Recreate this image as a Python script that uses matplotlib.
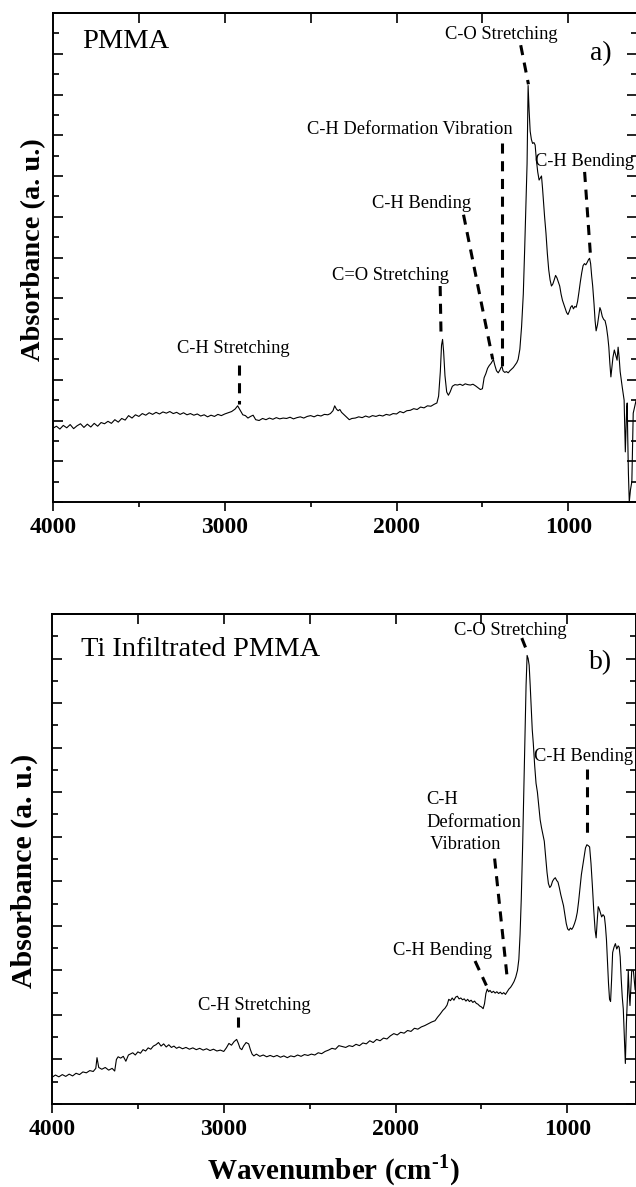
import matplotlib
matplotlib.use('Agg')
import matplotlib.pyplot as plt
from matplotlib.ticker import MultipleLocator

plt.rcParams['font.family'] = ['Liberation Serif', 'DejaVu Serif']
plt.rcParams['mathtext.fontset'] = 'custom'
plt.rcParams['mathtext.rm'] = 'Liberation Serif'
plt.rcParams['mathtext.bf'] = 'Liberation Serif:bold'

# ---- spectrum a) PMMA (wavenumber, absorbance a.u.) ----
wn_a = [
    4000, 3980, 3960, 3940, 3920, 3900, 3880, 3860, 3840, 3820,
    3800, 3780, 3760, 3740, 3720, 3700, 3680, 3660, 3640, 3620,
    3600, 3580, 3560, 3540, 3520, 3500, 3480, 3460, 3440, 3420,
    3400, 3380, 3360, 3340, 3320, 3300, 3280, 3260, 3240, 3220,
    3200, 3180, 3160, 3140, 3120, 3100, 3080, 3060, 3040, 3020,
    3000, 2980, 2960, 2940, 2925, 2910, 2895, 2880, 2865, 2850,
    2835, 2820, 2800, 2780, 2760, 2740, 2720, 2700, 2680, 2660,
    2640, 2620, 2600, 2580, 2560, 2540, 2520, 2500, 2480, 2460,
    2440, 2420, 2400, 2385, 2370, 2360, 2350, 2340, 2330, 2320,
    2305, 2290, 2275, 2260, 2240, 2220, 2200, 2180, 2160, 2140,
    2120, 2100, 2080, 2060, 2040, 2020, 2000, 1980, 1960, 1940,
    1920, 1900, 1880, 1860, 1840, 1820, 1800, 1780, 1765, 1755,
    1745, 1738, 1732, 1726, 1718, 1708, 1698, 1688, 1675, 1660,
    1645, 1630, 1615, 1600, 1585, 1570, 1555, 1540, 1525, 1512,
    1500, 1490, 1480, 1470, 1460, 1450, 1442, 1436, 1428, 1418,
    1408, 1398, 1392, 1386, 1380, 1370, 1360, 1350, 1340, 1330,
    1320, 1310, 1300, 1292, 1282, 1272, 1262, 1254, 1246, 1240,
    1234, 1228, 1222, 1215, 1208, 1200, 1193, 1186, 1178, 1170,
    1163, 1156, 1150, 1144, 1138, 1130, 1122, 1114, 1106, 1098,
    1090, 1082, 1074, 1066, 1058, 1050, 1042, 1034, 1026, 1018,
    1010, 1002, 994, 986, 978, 970, 962, 954, 946, 938,
    930, 922, 914, 906, 898, 890, 882, 876, 870, 864,
    858, 850, 844, 838, 830, 822, 816, 810, 802, 794,
    786, 778, 770, 764, 758, 752, 746, 740, 732, 724,
    716, 710, 704, 698, 692, 686, 680, 675, 671, 668,
    664, 660, 657, 654, 650, 645, 638, 630, 622, 605,
]
abs_a = [
    1.81, 1.86, 1.79, 1.88, 1.82, 1.90, 1.80, 1.87, 1.92, 1.83,
    1.91, 1.84, 1.93, 1.86, 1.95, 1.92, 1.98, 1.93, 2.02, 1.96,
    2.05, 2.01, 2.12, 2.06, 2.14, 2.10, 2.17, 2.13, 2.19, 2.15,
    2.20, 2.16, 2.21, 2.18, 2.22, 2.17, 2.20, 2.15, 2.19, 2.14,
    2.17, 2.13, 2.16, 2.11, 2.14, 2.09, 2.13, 2.10, 2.15, 2.12,
    2.16, 2.19, 2.22, 2.28, 2.36, 2.25, 2.14, 2.12, 2.06, 2.10,
    2.13, 2.02, 2.00, 2.05, 2.02, 2.06, 2.03, 2.07, 2.04, 2.06,
    2.05, 2.08, 2.04, 2.07, 2.09, 2.06, 2.10, 2.12, 2.09, 2.13,
    2.11, 2.15, 2.14, 2.17, 2.24, 2.36, 2.28, 2.24, 2.27, 2.20,
    2.14, 2.08, 2.02, 2.05, 2.06, 2.09, 2.07, 2.11, 2.08, 2.12,
    2.10, 2.13, 2.11, 2.15, 2.13, 2.17, 2.16, 2.22, 2.19, 2.24,
    2.25, 2.29, 2.27, 2.33, 2.31, 2.36, 2.35, 2.40, 2.43, 2.60,
    3.20, 3.85, 3.99, 3.70, 3.10, 2.70, 2.62, 2.70, 2.84, 2.88,
    2.87, 2.89, 2.86, 2.90, 2.88, 2.87, 2.89, 2.85, 2.80, 2.76,
    2.78, 3.05, 3.15, 3.28, 3.35, 3.40, 3.46, 3.50, 3.36, 3.22,
    3.17, 3.24, 3.30, 3.33, 3.22, 3.18, 3.20, 3.17, 3.22, 3.26,
    3.30, 3.36, 3.42, 3.50, 3.75, 4.30, 5.10, 6.20, 7.40, 8.30,
    10.22, 9.60, 9.10, 8.90, 8.80, 8.82, 8.76, 8.40, 8.10, 7.90,
    7.95, 8.00, 7.70, 7.35, 7.00, 6.60, 6.10, 5.70, 5.45, 5.30,
    5.35, 5.45, 5.56, 5.50, 5.40, 5.30, 5.10, 4.95, 4.85, 4.75,
    4.65, 4.60, 4.68, 4.78, 4.82, 4.74, 4.80, 4.78, 4.92, 5.15,
    5.40, 5.62, 5.80, 5.85, 5.82, 5.88, 5.95, 5.98, 5.85, 5.55,
    5.30, 4.85, 4.45, 4.20, 4.35, 4.60, 4.77, 4.70, 4.55, 4.48,
    4.45, 4.30, 4.05, 3.80, 3.40, 3.07, 3.30, 3.55, 3.73, 3.60,
    3.48, 3.80, 3.55, 3.20, 3.00, 2.82, 2.65, 2.50, 1.80, 1.23,
    1.80, 2.30, 2.43, 1.60, 0.70, 0.00, 0.30, 0.50, 2.18, 2.50,
]

# ---- spectrum b) Ti infiltrated PMMA ----
wn_b = [
    4000, 3980, 3960, 3940, 3920, 3900, 3880, 3860, 3840, 3820,
    3800, 3780, 3760, 3745, 3738, 3728, 3710, 3690, 3670, 3650,
    3635, 3625, 3615, 3600, 3585, 3570, 3555, 3545, 3530, 3515,
    3500, 3485, 3470, 3455, 3440, 3425, 3410, 3395, 3380, 3365,
    3350, 3335, 3320, 3305, 3290, 3275, 3260, 3240, 3220, 3200,
    3180, 3160, 3140, 3120, 3100, 3080, 3060, 3040, 3020, 3000,
    2985, 2970, 2955, 2940, 2925, 2915, 2905, 2895, 2885, 2870,
    2855, 2845, 2835, 2825, 2810, 2790, 2770, 2750, 2730, 2710,
    2690, 2670, 2650, 2630, 2610, 2590, 2570, 2550, 2530, 2510,
    2490, 2470, 2450, 2430, 2410, 2390, 2370, 2350, 2330, 2310,
    2290, 2270, 2250, 2230, 2210, 2190, 2170, 2150, 2130, 2110,
    2090, 2070, 2050, 2030, 2010, 1990, 1970, 1950, 1930, 1910,
    1890, 1870, 1850, 1830, 1810, 1790, 1770, 1755, 1740, 1725,
    1712, 1700, 1690, 1680, 1670, 1660, 1650, 1640, 1630, 1620,
    1610, 1600, 1590, 1580, 1570, 1560, 1550, 1540, 1530, 1520,
    1510, 1500, 1490, 1482, 1474, 1466, 1458, 1450, 1440, 1430,
    1420, 1410, 1400, 1390, 1380, 1370, 1360, 1350, 1340, 1330,
    1320, 1310, 1300, 1290, 1282, 1275, 1268, 1260, 1252, 1246,
    1240, 1234, 1228, 1222, 1216, 1210, 1204, 1198, 1190, 1182,
    1174, 1166, 1158, 1150, 1142, 1134, 1126, 1118, 1110, 1102,
    1094, 1086, 1078, 1070, 1062, 1054, 1046, 1038, 1030, 1022,
    1014, 1006, 998, 990, 982, 974, 966, 958, 950, 942,
    934, 926, 918, 910, 902, 894, 886, 878, 870, 862,
    854, 846, 838, 832, 826, 820, 814, 808, 800, 792,
    784, 778, 772, 766, 760, 754, 748, 742, 736, 728,
    720, 712, 704, 698, 692, 686, 680, 674, 668, 662,
    656, 650, 645, 640, 635, 630, 625, 615, 605, 596,
]
abs_b = [
    0.60, 0.65, 0.61, 0.66, 0.62, 0.67, 0.63, 0.69, 0.66, 0.72,
    0.70, 0.75, 0.73, 0.80, 1.04, 0.82, 0.78, 0.82, 0.76, 0.80,
    0.74, 1.00, 1.06, 1.03, 1.07, 0.96, 1.10, 1.12, 1.15, 1.10,
    1.17, 1.14, 1.22, 1.19, 1.26, 1.23, 1.30, 1.33, 1.38, 1.30,
    1.35, 1.28, 1.33, 1.27, 1.30, 1.25, 1.28, 1.24, 1.27, 1.23,
    1.26, 1.22, 1.25, 1.21, 1.24, 1.20, 1.23, 1.19, 1.21, 1.18,
    1.26, 1.36, 1.32, 1.40, 1.45, 1.36, 1.25, 1.22, 1.30, 1.38,
    1.35, 1.22, 1.12, 1.08, 1.12, 1.07, 1.10, 1.06, 1.09, 1.06,
    1.09, 1.05, 1.08, 1.04, 1.08, 1.06, 1.10, 1.07, 1.11, 1.09,
    1.12, 1.10, 1.15, 1.13, 1.18, 1.21, 1.25, 1.23, 1.31, 1.29,
    1.27, 1.31, 1.29, 1.34, 1.31, 1.37, 1.35, 1.42, 1.38, 1.45,
    1.42, 1.48, 1.46, 1.53, 1.58, 1.55, 1.61, 1.59, 1.65, 1.63,
    1.70, 1.68, 1.73, 1.76, 1.80, 1.84, 1.87, 1.95, 2.02, 2.10,
    2.15, 2.22, 2.35, 2.32, 2.38, 2.33, 2.40, 2.42, 2.36, 2.38,
    2.34, 2.36, 2.31, 2.35, 2.30, 2.33, 2.28, 2.31, 2.26, 2.24,
    2.20, 2.18, 2.14, 2.25, 2.48, 2.58, 2.52, 2.55, 2.50, 2.53,
    2.49, 2.52, 2.48, 2.51, 2.47, 2.50, 2.46, 2.52, 2.58, 2.62,
    2.68, 2.75, 2.85, 3.00, 3.25, 3.80, 4.60, 5.80, 7.20, 8.30,
    9.40, 10.07, 10.00, 9.85, 9.40, 8.90, 8.40, 8.10, 7.60, 7.20,
    7.00, 6.70, 6.38, 6.20, 6.05, 5.90, 5.55, 5.20, 4.95, 4.86,
    4.90, 5.00, 5.05, 5.08, 5.02, 4.98, 4.85, 4.70, 4.58, 4.45,
    4.25, 4.05, 3.93, 3.90, 3.95, 3.92, 3.97, 4.05, 4.15, 4.30,
    4.55, 4.85, 5.15, 5.35, 5.55, 5.75, 5.82, 5.80, 5.77, 5.40,
    4.90, 4.35, 3.90, 3.73, 4.10, 4.43, 4.38, 4.30, 4.20, 4.25,
    4.21, 4.00, 3.69, 3.20, 2.70, 2.35, 2.30, 2.80, 3.40, 3.52,
    3.60, 3.48, 3.55, 3.52, 3.30, 2.80, 2.40, 2.13, 1.50, 0.91,
    1.80, 2.39, 2.99, 2.50, 2.21, 2.60, 2.99, 2.99, 2.56, 2.56,
]

# ---- peak annotations: label text, label position, dashed marker line ----
labels_a = ['C-H Stretching', 'C=O Stretching', 'C-H Bending',
            'C-H Deformation Vibration', 'C-O Stretching', 'C-H Bending']
label_x_a = [2953, 2037, 1857, 1923, 1390, 905]
label_y_a = [3.77, 5.56, 7.33, 9.15, 11.47, 8.35]
mark_x0_a = [2918, 1746, 1610, 1384, 1277, 905]
mark_y0_a = [3.37, 5.30, 7.05, 8.80, 11.21, 8.10]
mark_x1_a = [2918, 1741, 1440, 1384, 1232, 870]
mark_y1_a = [2.41, 4.12, 3.50, 3.25, 10.25, 6.00]

labels_b = ['C-H Stretching', 'C-H Bending', 'C-O Stretching', 'C-H Bending']
label_x_b = [2825, 1726, 1329, 906]
label_y_b = [2.21, 3.45, 10.63, 7.79]
mark_x0_b = [2920, 1537, 1423, 1265, 887]
mark_y0_b = [1.95, 3.21, 5.51, 10.46, 7.51]
mark_x1_b = [2920, 1471, 1352, 1234, 887]
mark_y1_b = [1.71, 2.66, 2.91, 10.16, 6.08]

fig = plt.figure(figsize=(6.36, 11.87), dpi=100)
ax_a = fig.add_axes([53 / 636, 685 / 1187, 584 / 636, 489 / 1187])
ax_b = fig.add_axes([52 / 636, 83 / 1187, 584 / 636, 490 / 1187])


def style_axis(ax, ytop):
    ax.set_xlim(4000, 600)
    ax.set_ylim(0, ytop)
    for sp in ax.spines.values():
        sp.set_linewidth(1.4)
    ax.xaxis.set_major_locator(MultipleLocator(1000))
    ax.xaxis.set_minor_locator(MultipleLocator(500))
    ax.yaxis.set_major_locator(MultipleLocator(1))
    ax.yaxis.set_minor_locator(MultipleLocator(0.5))
    ax.tick_params(axis='x', which='major', direction='out', length=6.5, width=1.2,
                   top=False, labelsize=17, pad=4)
    ax.tick_params(axis='x', which='minor', direction='out', length=3.6, width=1.2, top=False)
    ax.tick_params(axis='y', which='major', direction='in', length=7.5, width=1.2,
                   left=True, right=True, labelleft=False)
    ax.tick_params(axis='y', which='minor', direction='in', length=4.3, width=1.2,
                   left=True, right=True)
    for lab in ax.get_xticklabels():
        lab.set_fontweight('bold')
    top = ax.secondary_xaxis('top')
    top.set_xticks([3500, 3000, 2500, 2000, 1500, 1000])
    top.tick_params(axis='x', which='major', direction='in', length=7, width=1.2, labeltop=False)
    top.tick_params(axis='x', which='minor', length=0)
    top.spines['top'].set_linewidth(1.4)


# panel a
style_axis(ax_a, 12)
ax_a.plot(wn_a, abs_a, color='black', lw=0.8)
for t, x, y in zip(labels_a, label_x_a, label_y_a):
    ax_a.text(x, y, t, fontsize=13.3, ha='center', va='center')
for x0, y0, x1, y1 in zip(mark_x0_a, mark_y0_a, mark_x1_a, mark_y1_a):
    ax_a.plot([x0, x1], [y0, y1], color='black', lw=2.2, dashes=(3.3, 2.5))
ax_a.text(3830, 11.3, 'PMMA', fontsize=20.5, ha='left', va='center')
ax_a.text(808, 11.0, 'a)', fontsize=20, ha='center', va='center')
ax_a.set_ylabel('Absorbance (a. u.)', fontsize=20.4, fontweight='bold')
ax_a.yaxis.set_label_coords(-0.0325, 0.517)
ax_a.yaxis.label.set_verticalalignment('center')

# panel b
style_axis(ax_b, 11)
ax_b.plot(wn_b, abs_b, color='black', lw=0.8)
for t, x, y in zip(labels_b, label_x_b, label_y_b):
    ax_b.text(x, y, t, fontsize=13.3, ha='center', va='center')
ax_b.text(1820, 6.33, 'C-H\nDeformation\n Vibration', fontsize=13.3, ha='left',
          va='center', linespacing=1.4)
for x0, y0, x1, y1 in zip(mark_x0_b, mark_y0_b, mark_x1_b, mark_y1_b):
    ax_b.plot([x0, x1], [y0, y1], color='black', lw=2.2, dashes=(3.3, 2.5))
ax_b.text(3830, 10.2, 'Ti Infiltrated PMMA', fontsize=20.5, ha='left', va='center')
ax_b.text(809, 9.9, 'b)', fontsize=20, ha='center', va='center')
ax_b.set_ylabel('Absorbance (a. u.)', fontsize=21.5, fontweight='bold')
ax_b.yaxis.set_label_coords(-0.048, 0.476)
ax_b.yaxis.label.set_verticalalignment('center')
ax_b.set_xlabel('Wavenumber (cm$^{\\mathbf{\u2010}\\mathbf{1}}$)', fontsize=21, fontweight='bold')
ax_b.xaxis.set_label_coords(0.481, -0.136)
ax_b.xaxis.label.set_verticalalignment('center')

fig.savefig('out.png', dpi=100)
